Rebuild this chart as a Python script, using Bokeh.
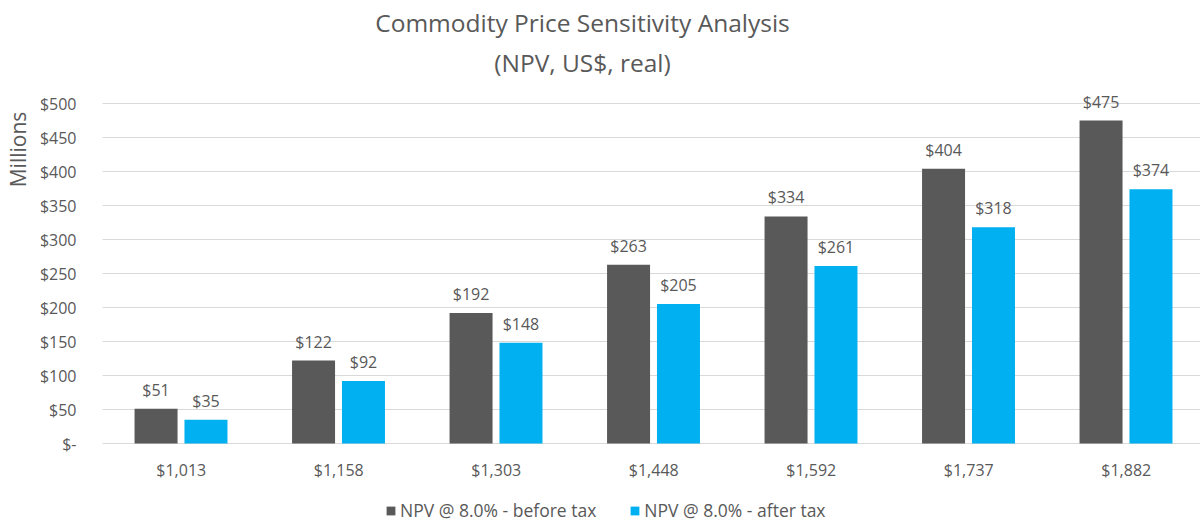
import math
from bokeh.plotting import figure
from bokeh.models import (ColumnDataSource, LabelSet, Label, Legend, LegendItem,
                          FixedTicker, Range1d, LinearAxis, Grid)
from bokeh.transform import dodge
from bokeh.core.properties import value
from bokeh.embed import file_html
from bokeh.resources import INLINE

# ---- data ----
prices = ["$1,013", "$1,158", "$1,303", "$1,448", "$1,592", "$1,737", "$1,882"]
before_tax = [51, 122, 192, 263, 334, 404, 475]
after_tax = [35, 92, 148, 205, 261, 318, 374]
y_ticks = [0, 50, 100, 150, 200, 250, 300, 350, 400, 450, 500]
y_tick_labels = ["$-", "$50", "$100", "$150", "$200", "$250", "$300", "$350", "$400", "$450", "$500"]
series_names = ["NPV @ 8.0% - before tax", "NPV @ 8.0% - after tax"]
title_lines = ["Commodity Price Sensitivity Analysis", "(NPV, US$, real)"]
unit_label = "Millions"

FONT = "Open Sans"
TXT = "#595959"
DARK = "#595959"
BLUE = "#00B0F0"
GRID = "#D9D9D9"

W, H = 1200, 522
PLOT_L = 102         # page x of the value axis
ZERO_Y = 443         # page y of value 0
PX_PER_CAT = 157.5
PX_PER_UNIT = 0.68

x_pos = [i + 0.5 for i in range(len(prices))]
src = ColumnDataSource(dict(
    x=x_pos,
    before=before_tax,
    after=after_tax,
    before_lbl=["$%d" % v for v in before_tax],
    after_lbl=["$%d" % v for v in after_tax],
))

p = figure(width=W, height=H, output_backend="svg", toolbar_location=None, title=None,
           x_range=Range1d(-PLOT_L / PX_PER_CAT, (W - PLOT_L) / PX_PER_CAT),
           y_range=Range1d(-(H - ZERO_Y) / PX_PER_UNIT, ZERO_Y / PX_PER_UNIT),
           x_axis_location=None, y_axis_location=None,
           min_border_left=0, min_border_right=0, min_border_top=0, min_border_bottom=0)
p.outline_line_color = None
p.background_fill_color = "white"
p.border_fill_color = "white"

# remove the automatic grids; draw value gridlines only across the plotting area
p.center = [r for r in p.center if not isinstance(r, Grid)]
grid_src = ColumnDataSource(dict(y=y_ticks))
p.segment(x0=0, x1=p.x_range.end, y0="y", y1="y", source=grid_src,
          line_color=GRID, line_width=1, level="underlay")

r1 = p.vbar(x=dodge("x", -0.16, range=p.x_range), top="before", width=0.273,
            source=src, fill_color=DARK, line_color=None)
r2 = p.vbar(x=dodge("x", 0.157, range=p.x_range), top="after", width=0.273,
            source=src, fill_color=BLUE, line_color=None)

for col, lbl, off in (("before", "before_lbl", -0.16), ("after", "after_lbl", 0.157)):
    ls = LabelSet(x=dodge("x", off, range=p.x_range), y=col, text=lbl, source=src,
                  text_align="center", text_baseline="alphabetic", y_offset=13,
                  text_font=value(FONT), text_font_size="16px", text_color=TXT)
    p.add_layout(ls)

# axes pinned at the plot-area edges
xaxis = LinearAxis(fixed_location=0, ticker=FixedTicker(ticks=x_pos),
                   major_label_overrides={x: s for x, s in zip(x_pos, prices)})
yaxis = LinearAxis(fixed_location=0, ticker=FixedTicker(ticks=y_ticks),
                   major_label_overrides={t: s for t, s in zip(y_ticks, y_tick_labels)})
p.add_layout(xaxis, "below")
p.add_layout(yaxis, "left")
for ax in (xaxis, yaxis):
    ax.axis_line_color = None
    ax.major_tick_line_color = None
    ax.minor_tick_line_color = None
    ax.major_tick_out = 0
    ax.major_tick_in = 0
    ax.major_label_text_font = FONT
    ax.major_label_text_font_size = "16px"
    ax.major_label_text_color = TXT
yaxis.major_label_standoff = 26
xaxis.major_label_standoff = 15

# chart title
p.add_layout(Label(x=582, y=500, x_units="screen", y_units="screen",
                   text=title_lines[0], text_align="center", text_baseline="alphabetic",
                   text_font=FONT, text_font_size="24.5px", text_color=TXT))
p.add_layout(Label(x=582, y=460, x_units="screen", y_units="screen",
                   text=title_lines[1], text_align="center", text_baseline="alphabetic",
                   text_font=FONT, text_font_size="24.5px", text_color=TXT))

# unit label at top of the value axis
p.add_layout(Label(x=17, y=373, x_units="screen", y_units="screen", text=unit_label,
                   angle=math.pi / 2, text_align="center", text_baseline="middle",
                   text_font=FONT, text_font_size="21px", text_color=TXT))

legend = Legend(items=[LegendItem(label=series_names[0], renderers=[r1]),
                       LegendItem(label=series_names[1], renderers=[r2])],
                orientation="horizontal", location=(385, 0),
                glyph_width=11, glyph_height=11, label_standoff=4, spacing=33,
                padding=0, margin=0, border_line_color=None, background_fill_alpha=0,
                label_text_font=FONT, label_text_font_size="17.5px", label_text_color=TXT)
p.add_layout(legend)

open("out.html", "w").write(file_html(p, INLINE))
